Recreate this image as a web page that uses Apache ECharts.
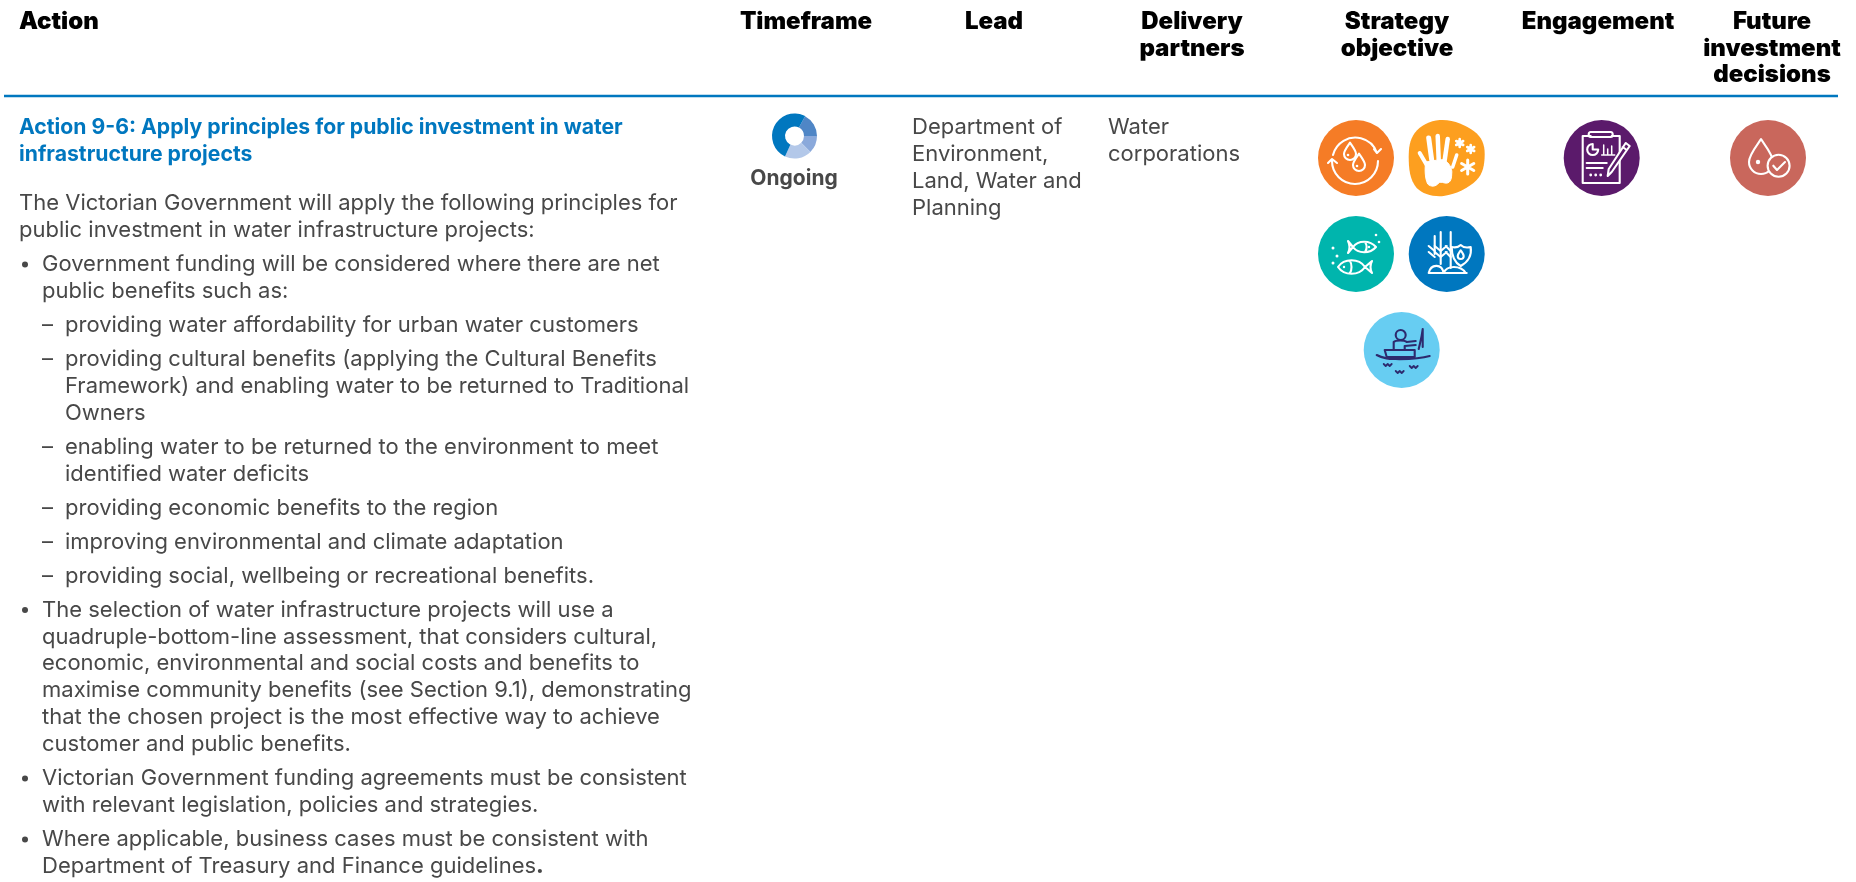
<!DOCTYPE html>
<html>
<head>
<meta charset="utf-8">
<script src="https://cdn.jsdelivr.net/npm/echarts@6/dist/echarts.min.js"></script>
<style>
  * { margin: 0; padding: 0; }
  #main { width: 1856px; height: 882px; background: #fff; }
</style>
</head>
<body>
<div id="main"></div>
<script>
// table text
var actionHeader = 'Action';
var columnHeaders = [
  ['Timeframe'],
  ['Lead'],
  ['Delivery', 'partners'],
  ['Strategy', 'objective'],
  ['Engagement'],
  ['Future', 'investment', 'decisions']
];
var actionTitle = ['Action 9-6: Apply principles for public investment in water', 'infrastructure projects'];
var intro = ['The Victorian Government will apply the following principles for', 'public investment in water infrastructure projects:'];
var bullet1 = ['Government funding will be considered where there are net', 'public benefits such as:'];
var subItems = [
  ['providing water affordability for urban water customers'],
  ['providing cultural benefits (applying the Cultural Benefits', 'Framework) and enabling water to be returned to Traditional', 'Owners'],
  ['enabling water to be returned to the environment to meet', 'identified water deficits'],
  ['providing economic benefits to the region'],
  ['improving environmental and climate adaptation'],
  ['providing social, wellbeing or recreational benefits.']
];
var otherBullets = [
  ['The selection of water infrastructure projects will use a', 'quadruple-bottom-line assessment, that considers cultural,', 'economic, environmental and social costs and benefits to', 'maximise community benefits (see Section 9.1), demonstrating', 'that the chosen project is the most effective way to achieve', 'customer and public benefits.'],
  ['Victorian Government funding agreements must be consistent', 'with relevant legislation, policies and strategies.'],
  ['Where applicable, business cases must be consistent with', 'Department of Treasury and Finance guidelines{b|.}']
];
var timeframeLabel = 'Ongoing';
var leadLines = ['Department of', 'Environment,', 'Land, Water and', 'Planning'];
var partnerLines = ['Water', 'corporations'];

// timeframe donut, slices read clockwise from the upper right
var donutValues = [62, 45, 70, 183];
var donutColors = ['#4f86c6', '#8aa9db', '#b3c8e9', '#0077bf'];

var FONT = 'Inter';
var BLUE = '#0077bf';
var GREY = '#484848';
var LINE = 26.9, GAP = 34;
var els = [];

function text(str, x, y, size, weight, color, align) {
  els.push({
    type: 'text', x: x, y: y, silent: true,
    style: {
      text: str, fontFamily: FONT, fontSize: size, fontWeight: weight, fill: color,
      textAlign: align || 'left', textVerticalAlign: 'middle',
      rich: { b: { fontFamily: FONT, fontSize: size, fontWeight: 800, fill: color } }
    }
  });
}

// headers
text(actionHeader, 19, 21.5, 24, 900, '#000');
var headerX = [806, 994, 1192, 1397, 1598, 1772];
columnHeaders.forEach(function (lines, i) {
  lines.forEach(function (l, j) { text(l, headerX[i], 21.5 + j * 26.8, 24, 900, '#000', 'center'); });
});
els.push({
  type: 'line', silent: true,
  shape: { x1: 4, y1: 96, x2: 1838, y2: 96 },
  style: { stroke: BLUE, lineWidth: 2.4 }
});

// left column
actionTitle.forEach(function (l, i) { text(l, 19, 128 + i * LINE, 21.2, 700, BLUE); });
var y = 203.5;
function block(lines, x) {
  lines.forEach(function (l, i) { text(l, x, y + i * LINE, 22, 400, GREY); });
  y += (lines.length - 1) * LINE + GAP;
}
function dot() {
  els.push({ type: 'circle', silent: true, shape: { cx: 25, cy: y, r: 3 }, style: { fill: GREY } });
}
block(intro, 19);
dot();
block(bullet1, 42);
subItems.forEach(function (lines) {
  text('–', 42, y, 22, 400, GREY);
  block(lines, 65);
});
otherBullets.forEach(function (lines) {
  dot();
  block(lines, 42);
});

// other columns
text(timeframeLabel, 794, 179, 21, 700, GREY, 'center');
leadLines.forEach(function (l, i) { text(l, 912, 127.5 + i * LINE, 22, 400, GREY); });
partnerLines.forEach(function (l, i) { text(l, 1108, 127.5 + i * LINE, 22, 400, GREY); });

// icon helpers, coordinates relative to the icon centre
function p(d, color, width, fill) {
  return {
    type: 'path', silent: true, shape: { pathData: d },
    style: { fill: fill || 'none', stroke: color, lineWidth: width == null ? 2.1 : width, lineCap: 'round', lineJoin: 'round' }
  };
}
function c(x, y, r, fill, stroke, width) {
  return {
    type: 'circle', silent: true, shape: { cx: x, cy: y, r: r },
    style: { fill: fill || 'none', stroke: stroke || 'none', lineWidth: width || 0 }
  };
}
function drop(x, y, r) {
  return 'M' + x + ' ' + (y - 1.9 * r) +
    ' C' + (x + 0.4 * r) + ' ' + (y - 1.3 * r) + ' ' + (x + r) + ' ' + (y - 0.6 * r) + ' ' + (x + r) + ' ' + y +
    ' A' + r + ' ' + r + ' 0 1 1 ' + (x - r) + ' ' + y +
    ' C' + (x - r) + ' ' + (y - 0.6 * r) + ' ' + (x - 0.4 * r) + ' ' + (y - 1.3 * r) + ' ' + x + ' ' + (y - 1.9 * r) + ' Z';
}
function star(x, y, r, w) {
  var a = r * 0.87, b = r * 0.5;
  return p('M' + x + ' ' + (y - r) + ' L' + x + ' ' + (y + r) +
    ' M' + (x - a) + ' ' + (y - b) + ' L' + (x + a) + ' ' + (y + b) +
    ' M' + (x - a) + ' ' + (y + b) + ' L' + (x + a) + ' ' + (y - b), '#fff', w);
}
var icons = [];
function icon(x, y, children) {
  icons.push({ type: 'group', x: x, y: y, silent: true, children: children });
}
var W = '#fff', NAVY = '#2d2a6e';

// water cycle
icon(1356, 158, [
  c(0, 0, 38, '#f57c26'),
  p('M-23 -3 A23 23 0 0 1 21 -5 M18 -9 L21 -5 L25 -9', W),
  p('M22 3 A23 23 0 0 1 -24 3 M-28 5 L-24 1 L-19 5', W),
  p(drop(-6, -4, 6), W),
  p(drop(3, 7, 6), W),
  c(-8, -3, 1.3, W), c(1, 8, 1.3, W)
]);
// hand
icon(1446.7, 158, [
  p('M-7 -38 C6 -39 19 -33 27 -27 C35 -21 38 -14 38 -4 C38 7 36 16 30 22 C22 30 10 36 -3 38 C-14 39 -24 36 -30 30 C-37 22 -38 10 -38 -1 C-38 -10 -37 -18 -32 -25 C-26 -33 -17 -37 -7 -38 Z', 'none', 0, '#fd9f1f'),
  p('M-27 -5 L-20 7', W, 4),
  p('M-18 -20 L-15 2', W, 5),
  p('M-9 -22 L-8 2', W, 4.5),
  p('M1 -19 L-2 2', W, 4.5),
  p('M10 -3 L6 9', W, 3.5),
  p('M-21 4 C-14 3 -6 1 -2 2 C2 5 6 10 5 16 C5 22 3 26 -2 25 C-5 24 -7 24 -8 25 C-11 29 -16 29 -19 26 C-22 20 -22 10 -21 4 Z', W, 1, W),
  star(13, -15, 4, 2.6),
  star(24, -9, 4, 2.6),
  star(21, 9, 7, 3)
]);
// fish
icon(1356, 254, [
  c(0, 0, 38, '#00b5ad'),
  p('M-3 -7 C2 -14 14 -14 20 -7 C14 0 2 0 -3 -7 Z M-3 -7 L-8 -13 C-6 -9 -6 -5 -8 -1 Z M9 -12 C11 -9 11 -5 9 -2', W),
  p('M9 13 C3 4 -12 4 -18 13 C-12 22 3 22 9 13 Z M9 13 L16 7 C14 11 14 15 16 19 Z M-6 7 C-4 10 -4 16 -6 19', W),
  c(13, -7, 1.2, W), c(-12, 13, 1.2, W),
  c(-23, -6, 1.5, W), c(-19, 2, 1.5, W), c(-23, 9, 1.5, W), c(20, -19, 1.3, W), c(23, -12, 1.3, W)
]);
// crops and shield
icon(1446.7, 254, [
  c(0, 0, 38, BLUE),
  p('M-12 -18 L-12 0 M-6 -22 L-6 10 M4 -22 L4 14', W),
  p('M-18 -8 L-12 -3 M-18 -2 L-12 3 M-12 -8 L-6 -3 M-12 -2 L-6 3 M0 -8 L-6 -3 M0 -2 L-6 3 M-1 -8 L4 -3 M-1 -2 L4 3', W),
  p('M-18 19 C-16 10 -5 9 -3 19 M-3 19 C0 11 14 11 19 19 M-18 19 L20 19', W),
  p('M5 -7 C9 -6 12 -7 14 -9 C16 -7 20 -6 24 -7 C25 0 23 7 14 12 C7 8 5 1 5 -7 Z', W, 2.1, BLUE),
  p(drop(14, 2, 3), W)
]);
// fishing
icon(1401.7, 350, [
  c(0, 0, 38, '#67cdf2'),
  c(-1, -15, 5, 'none', NAVY, 2.1),
  p('M-8 0 L-8 -8 C-6 -10 3 -10 5 -8 L14 -9 M3 -4 L14 -5 M3 -4 L3 0 M21 -21 C20 -12 18 -6 17 -1 M21 -21 L21 -3', NAVY),
  p('M-17 0 L13 0 L13 7 L-15 7 Z', NAVY),
  p('M-25 5 C-20 8 -16 8 -12 9 C0 9 15 10 28 6', NAVY),
  p('M-18 14 L-16 16 L-14 14 L-12 16 L-10 14 M-6 21 L-4 23 L-2 21 L0 23 L2 21 M8 16 L10 18 L12 16 L14 18 L16 16', NAVY, 1.8)
]);
// engagement clipboard
icon(1601.7, 158, [
  c(0, 0, 38, '#5b1a6b'),
  p('M-11 -22 L-19 -22 L-19 25 L18 25 L18 -22 L10 -22', W),
  p('M-11 -26 L9 -26 Q11 -26 11 -23.5 Q11 -21 9 -21 L-11 -21 Q-13 -21 -13 -23.5 Q-13 -26 -11 -26 Z', W),
  p('M-9 -14 A5.5 5.5 0 1 0 -3.5 -8.5 L-9 -8.5 Z', W),
  p('M2 -13 L2 -4 M6 -9 L6 -4 M10 -12 L10 -4 M0 -3 L13 -3', W, 1.5),
  p('M-15 5 L5 5 M-15 10 L1 10', W),
  c(-11, 17, 1.4, W), c(-6, 17, 1.4, W), c(-1, 17, 1.4, W),
  p('M24 -15 L28 -12 L10 14 L6 18 L7 11 Z M21 -11 L25 -8', W, 2.1, '#5b1a6b')
]);
// future investment
icon(1768, 158, [
  c(0, 0, 38, '#c9675c'),
  p(drop(-7, 4, 12), W),
  c(-10, 4, 2.2, W),
  c(10.6, 7.7, 11, '#c9675c', W, 2.1),
  p('M5.3 7.7 L9 12 L17 4', W)
]);

var chart = echarts.init(document.getElementById('main'));
chart.setOption({
  animation: false,
  backgroundColor: '#fff',
  series: [{
    type: 'pie',
    silent: true,
    center: [794.5, 136],
    radius: [9.5, 22.5],
    startAngle: 62,
    clockwise: true,
    label: { show: false },
    labelLine: { show: false },
    data: donutValues.map(function (v, i) {
      return { value: v, itemStyle: { color: donutColors[i] } };
    })
  }, {
    // the graphic component has no free path type, custom series does
    type: 'custom',
    coordinateSystem: 'none',
    silent: true,
    data: icons.map(function (ic, i) { return i; }),
    renderItem: function (params) { return icons[params.dataIndex]; }
  }],
  graphic: { elements: els }
});
</script>
</body>
</html>
